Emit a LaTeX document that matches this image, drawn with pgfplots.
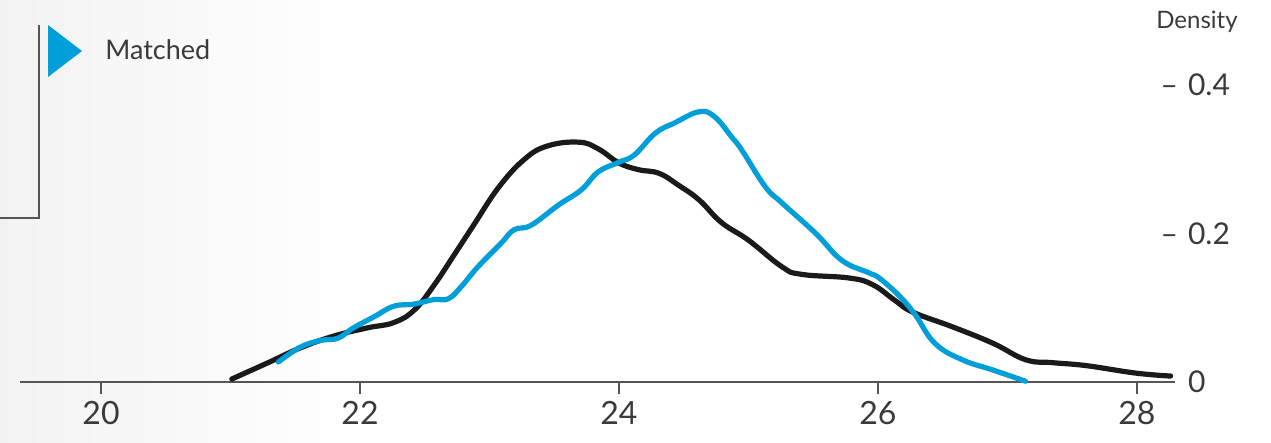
\documentclass[border=0pt]{standalone}
\usepackage{fontspec}
\setmainfont{Lato}
\usepackage{pgfplots}
\pgfplotsset{compat=1.18}
\definecolor{cblue}{HTML}{009FDA}
\definecolor{cblack}{HTML}{1A1A1A}
\definecolor{ctext}{HTML}{3A3A3A}
\definecolor{caxis}{HTML}{555555}
\begin{document}
\begin{tikzpicture}
\useasboundingbox (0,0) rectangle (635.5pt,221.5pt);
\shade[left color=black!5, right color=white] (0,0) rectangle (180pt,221.5pt);
\begin{axis}[
  at={(10pt,30.5pt)}, anchor=south west,
  scale only axis, width=577.5pt, height=191pt,
  xmin=19.374, xmax=28.294, ymin=0, ymax=0.5145,
  axis x line*=bottom, axis y line*=right,
  x axis line style={draw=caxis, line width=0.75pt},
  y axis line style={draw=none},
  xtick={20,22,24,26,28},
  ytick={0,0.2,0.4},
  yticklabels={0,\llap{–\hspace{5pt}}0.2,\llap{–\hspace{5pt}}0.4},
  /pgf/number format/assume math mode=true,
  tick align=outside, major tick length=6pt,
  xtick style={draw=caxis, line width=0.6pt},
  ytick style={draw=none},
  xticklabel style={font=\fontsize{16}{19}\selectfont, text=ctext},
  yticklabel style={font=\fontsize{15}{18}\selectfont, text=ctext, anchor=west, xshift=-3pt},
  clip=false,
]
\addplot[cblack, line width=2.6pt, line cap=round, smooth, tension=0.7] coordinates {
(21.01,0.004) (21.29,0.026) (21.54,0.046) (21.80,0.062) (22.06,0.073)
(22.26,0.080) (22.42,0.097) (22.57,0.130) (22.73,0.172) (22.88,0.212)
(23.07,0.262) (23.27,0.300) (23.45,0.318) (23.69,0.323) (23.84,0.314)
(24.00,0.295) (24.15,0.286) (24.31,0.281) (24.46,0.265) (24.62,0.245)
(24.79,0.215) (25.00,0.191) (25.26,0.155) (25.41,0.145) (25.78,0.140)
(25.96,0.131) (26.13,0.110) (26.27,0.094) (26.58,0.074) (26.89,0.052)
(27.14,0.030) (27.35,0.026) (27.61,0.022) (27.99,0.012) (28.26,0.008)
};
\addplot[cblue, line width=2.6pt, line cap=round, smooth, tension=0.7] coordinates {
(21.37,0.027) (21.54,0.047) (21.70,0.056) (21.83,0.059) (21.95,0.073)
(22.11,0.088) (22.26,0.102) (22.42,0.105) (22.57,0.111) (22.68,0.112)
(22.78,0.128) (22.91,0.155) (23.09,0.187) (23.19,0.205) (23.32,0.211)
(23.53,0.238) (23.71,0.259) (23.84,0.283) (24.00,0.296) (24.12,0.306)
(24.28,0.335) (24.43,0.349) (24.62,0.364) (24.74,0.357) (24.87,0.330)
(24.95,0.312) (25.13,0.263) (25.26,0.241) (25.52,0.200) (25.72,0.164)
(25.93,0.147) (26.01,0.140) (26.17,0.115) (26.29,0.090) (26.44,0.052)
(26.65,0.030) (26.89,0.016) (27.14,0.001)
};
\end{axis}
\node[font=\fontsize{12}{14}\selectfont, text=ctext] at (598.5pt,210.5pt) {Density};
\draw[caxis, line width=0.75pt] (19.5pt,209pt) -- (19.5pt,112.5pt) -- (0pt,112.5pt);
\fill[cblue] (24pt,209pt) -- (24pt,183pt) -- (41pt,196pt) -- cycle;
\node[anchor=west, font=\fontsize{13.5}{16}\selectfont, text=ctext, inner sep=0pt] at (52.5pt,196.5pt) {Matched};
\end{tikzpicture}
\end{document}
